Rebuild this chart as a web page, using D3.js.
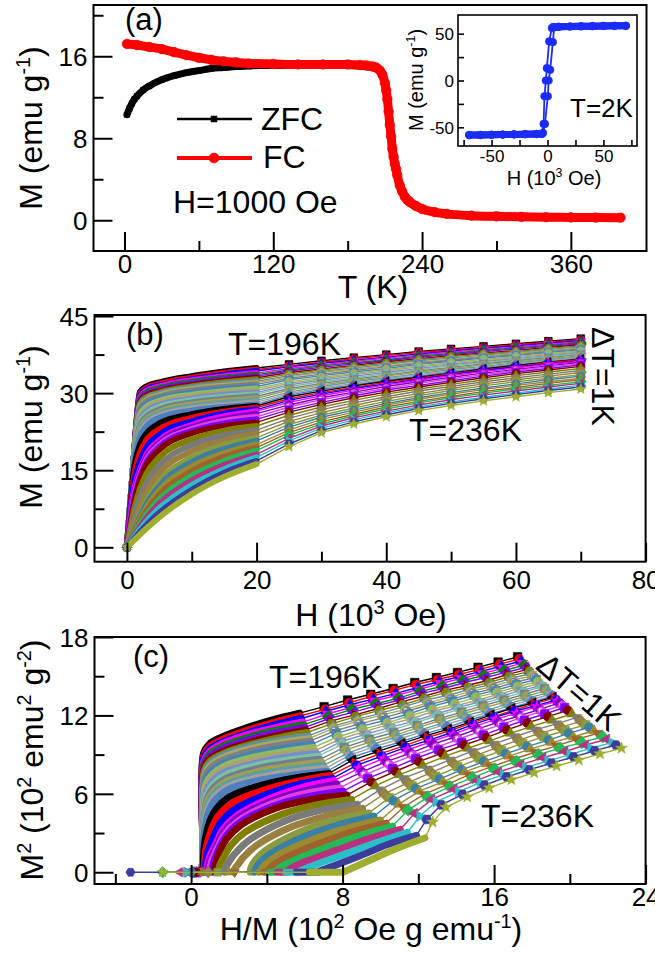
<!DOCTYPE html>
<html><head><meta charset="utf-8">
<script src="https://cdn.jsdelivr.net/npm/d3@7"></script>
<style>
body{margin:0;background:#fff}
svg{display:block}
text{font-family:"Liberation Sans",Arial,sans-serif;fill:#000}
</style>
</head><body>
<svg id="fig" width="655" height="953"></svg>
<script>
// ---------------- DATA ----------------
// (a) M-T curves, H = 1000 Oe
const fcT = [2,10,20,30,40,50,60,70,80,90,100,120,140,160,180,190,195,200,203,206,208,210,211,212,213,214,215,216,217,218,219,220,222,224,226,228,230,235,240,250,260,280,300,320,340,360,380,400];
const fcM = [17.2,17.1,16.9,16.7,16.4,16.1,15.85,15.65,15.5,15.4,15.3,15.25,15.2,15.2,15.2,15.15,15.1,15.0,14.9,14.6,14.2,13.4,12.7,11.8,10.6,9.3,8.2,7.0,6.2,5.5,5.0,4.4,3.4,2.8,2.3,2.0,1.8,1.4,1.1,0.8,0.62,0.45,0.38,0.33,0.3,0.28,0.26,0.25];
const zfcT = [2,4,6,8,10,15,20,30,40,50,60,70,80,90,100,110,120,140,160,180,200,206,210,212,214,216,218,220,224,230,240,260,300,350,400];
const zfcM = [10.3,10.9,11.4,11.8,12.1,12.7,13.1,13.7,14.1,14.4,14.6,14.8,14.9,15.0,15.05,15.1,15.1,15.1,15.1,15.1,14.9,14.5,13.2,11.5,9.0,6.8,5.3,4.3,2.7,1.7,1.05,0.6,0.37,0.29,0.24];
// (a) inset: hysteresis loop at T = 2 K
const loopDownH = [70,60,50,40,30,20,10,5,3.9,1.5,-0.6,-1.5,-2.7,-3.5,-5,-10,-20,-30,-40,-50,-60,-70];
const loopDownM = [58.5,58.4,58.3,58.1,57.9,57.7,57.4,57.1,56.0,41.8,13.2,0,-16.8,-46.4,-57.0,-57.2,-57.4,-57.6,-57.8,-58.0,-58.2,-58.3];
const loopUpH = [-70,-60,-50,-40,-30,-20,-10,-5,-4,-2.3,0.3,1.0,2.4,4.8,6.0,10,20,30,40,50,60,70];
const loopUpM = [-58.3,-58.2,-58.0,-57.8,-57.6,-57.4,-57.2,-57.0,-56.0,-46.4,-16.8,0,11.4,41.0,57.0,57.4,57.7,57.9,58.1,58.3,58.4,58.5];

// (b),(c) isotherms, T = 196 ... 236 K, dT = 1 K
const temps = [196,197,198,199,200,201,202,203,204,205,206,207,208,209,210,211,212,213,214,215,216,217,218,219,220,221,222,223,224,225,226,227,228,229,230,231,232,233,234,235,236];
const fieldsLow = [0,0.1,0.5,1,2,3,5,10,15,20];          // 10^3 Oe, dense sweep
const fieldsHigh = [25,30,35,40,45,50,55,60,65,70];      // 10^3 Oe
const mLow = [
[0,1.7,8.3,16.5,30.2,31.3,32.1,33.3,34.2,34.9],
[0,1.7,8.3,16.5,29.9,31.0,31.8,33.0,33.9,34.6],
[0,1.7,8.3,16.5,29.6,30.7,31.5,32.7,33.6,34.3],
[0,1.7,8.3,16.5,29.2,30.4,31.3,32.5,33.3,33.9],
[0,1.7,8.3,16.5,28.9,30.1,31.0,32.2,33.0,33.6],
[0,1.7,8.3,16.5,28.6,29.8,30.7,31.9,32.7,33.3],
[0,1.7,8.3,16.5,28.3,29.5,30.4,31.6,32.4,33.0],
[0,1.7,8.3,16.5,28.0,29.2,30.1,31.3,32.1,32.7],
[0,1.7,8.3,16.5,27.6,28.9,29.9,31.1,31.8,32.3],
[0,1.7,8.3,16.5,27.3,28.6,29.6,30.8,31.5,32.0],
[0,1.7,8.3,16.5,27.0,28.3,29.3,30.5,31.2,31.7],
[0,1.7,8.3,16.4,26.4,27.8,28.9,30.1,30.8,31.3],
[0,1.7,8.3,16.3,25.9,27.3,28.5,29.7,30.4,30.9],
[0,1.7,8.3,16.2,25.4,26.9,28.1,29.3,30.0,30.5],
[0,1.7,8.3,16.1,24.8,26.4,27.7,28.9,29.7,30.1],
[0,1.7,8.3,16.0,24.3,25.9,27.3,28.6,29.3,29.8],
[0,1.7,8.3,15.9,23.7,25.4,26.8,28.2,28.9,29.4],
[0,1.7,8.3,15.8,23.2,24.9,26.4,27.8,28.5,29.0],
[0,1.7,8.3,15.7,22.6,24.5,26.0,27.4,28.1,28.6],
[0,1.7,8.3,15.6,22.1,24.0,25.6,27.0,27.7,28.2],
[0,1.7,8.3,15.5,21.5,23.5,25.2,26.6,27.3,27.8],
[0,1.6,7.7,14.3,19.9,22.1,24.1,25.9,26.9,27.5],
[0,1.5,7.2,13.0,18.3,20.8,23.0,25.2,26.4,27.2],
[0,1.35,6.6,11.8,16.6,19.4,21.9,24.5,26.0,26.8],
[0,1.2,6.0,10.5,15.0,18.0,20.8,23.8,25.5,26.5],
[0,1.1,5.5,9.8,14.5,17.5,20.4,23.4,25.0,26.0],
[0,1.0,5.0,9.2,14.0,17.0,19.9,23.0,24.6,25.4],
[0,0.9,4.5,8.5,13.5,16.5,19.5,22.6,24.1,24.9],
[0,0.8,4.0,7.8,13.0,16.0,19.0,22.2,23.6,24.3],
[0,0.68,3.4,6.7,11.3,14.3,17.5,21.0,22.7,23.6],
[0,0.56,2.8,5.5,9.7,12.5,15.9,19.9,21.8,22.8],
[0,0.44,2.2,4.4,8.0,10.8,14.4,18.7,20.8,22.1],
[0,0.32,1.6,3.2,6.3,9.0,12.8,17.5,19.9,21.3],
[0,0.3,1.48,2.96,5.82,8.33,11.9,16.6,19.1,20.7],
[0,0.28,1.36,2.71,5.34,7.66,11.1,15.7,18.3,20.0],
[0,0.26,1.23,2.47,4.86,6.99,10.2,14.8,17.6,19.4],
[0,0.24,1.11,2.22,4.39,6.33,9.3,13.9,16.8,18.8],
[0,0.22,0.99,1.98,3.91,5.66,8.5,13.0,16.0,18.1],
[0,0.2,0.87,1.74,3.43,4.99,7.6,12.1,15.2,17.5],
[0,0.18,0.74,1.49,2.95,4.32,6.7,11.2,14.5,16.8],
[0,0.16,0.62,1.25,2.47,3.65,5.85,10.35,13.7,16.2]
];
const mHigh = [
[35.6,36.3,36.9,37.5,38.1,38.6,39.1,39.6,40.1,40.6],
[35.3,36.0,36.7,37.3,37.9,38.4,38.9,39.4,39.9,40.4],
[35.1,35.8,36.4,37.0,37.6,38.2,38.7,39.2,39.7,40.2],
[34.8,35.5,36.2,36.8,37.4,38.0,38.5,39.0,39.5,40.0],
[34.5,35.3,35.9,36.5,37.2,37.7,38.3,38.8,39.3,39.8],
[34.3,35.0,35.7,36.3,37.0,37.5,38.1,38.6,39.1,39.6],
[34.0,34.7,35.4,36.1,36.7,37.3,37.8,38.3,38.9,39.4],
[33.7,34.5,35.2,35.8,36.5,37.1,37.6,38.1,38.7,39.2],
[33.4,34.2,34.9,35.6,36.3,36.8,37.4,37.9,38.5,39.0],
[33.2,34.0,34.7,35.3,36.0,36.6,37.2,37.7,38.3,38.8],
[32.9,33.7,34.4,35.1,35.8,36.4,37.0,37.5,38.1,38.6],
[32.6,33.4,34.1,34.8,35.6,36.2,36.8,37.3,37.9,38.4],
[32.2,33.1,33.8,34.6,35.3,35.9,36.6,37.1,37.7,38.2],
[31.9,32.8,33.6,34.3,35.1,35.7,36.3,36.9,37.5,38.0],
[31.6,32.5,33.3,34.0,34.8,35.5,36.1,36.7,37.3,37.8],
[31.3,32.2,33.0,33.8,34.6,35.3,35.9,36.5,37.1,37.7],
[30.9,31.9,32.7,33.5,34.3,35.0,35.7,36.3,36.9,37.5],
[30.6,31.6,32.4,33.3,34.1,34.8,35.5,36.1,36.7,37.3],
[30.2,31.3,32.2,33.0,33.8,34.6,35.2,35.9,36.5,37.1],
[29.9,31.0,31.9,32.8,33.6,34.3,35.0,35.7,36.3,36.9],
[29.6,30.7,31.6,32.5,33.3,34.1,34.8,35.5,36.1,36.7],
[29.3,30.4,31.4,32.3,33.1,33.9,34.7,35.4,36.0,36.6],
[28.9,30.1,31.1,32.1,32.9,33.8,34.5,35.2,35.9,36.5],
[28.6,29.8,30.9,31.8,32.7,33.6,34.4,35.1,35.7,36.3],
[28.2,29.5,30.6,31.6,32.5,33.4,34.2,34.9,35.6,36.2],
[27.7,29.1,30.2,31.3,32.2,33.1,33.9,34.6,35.3,36.0],
[27.3,28.7,29.9,30.9,31.9,32.8,33.6,34.4,35.1,35.7],
[26.8,28.2,29.5,30.6,31.5,32.4,33.3,34.1,34.8,35.5],
[26.3,27.8,29.1,30.2,31.2,32.1,33.0,33.8,34.5,35.2],
[25.7,27.3,28.6,29.8,30.8,31.7,32.6,33.4,34.1,34.8],
[25.1,26.8,28.1,29.3,30.4,31.3,32.2,33.0,33.7,34.4],
[24.5,26.2,27.6,28.9,29.9,30.9,31.8,32.6,33.3,34.0],
[23.9,25.7,27.1,28.4,29.5,30.5,31.4,32.2,32.9,33.6],
[23.4,25.3,26.7,28.0,29.1,30.1,31.0,31.8,32.6,33.3],
[22.8,24.9,26.3,27.7,28.8,29.8,30.7,31.5,32.2,32.9],
[22.3,24.4,25.9,27.3,28.4,29.4,30.3,31.1,31.9,32.6],
[21.8,24.0,25.6,26.9,28.1,29.1,30.0,30.8,31.5,32.2],
[21.2,23.6,25.2,26.5,27.7,28.7,29.6,30.4,31.2,31.9],
[20.7,23.2,24.8,26.2,27.3,28.3,29.2,30.0,30.8,31.5],
[20.1,22.7,24.4,25.8,27.0,28.0,28.9,29.7,30.5,31.2],
[19.6,22.3,24.0,25.4,26.6,27.6,28.5,29.3,30.1,30.8]
];
// H/M (10^2 Oe g/emu) of the first (near zero-field) point of each isotherm in the Arrott plot
const zeroFieldHM = [0.3,0.2,0.4,0.3,0.1,0.3,0.5,0.2,0.3,0.4,0.2,0.3,0.1,0.3,0.4,0.2,0.3,0.0,0.3,0.5,0.2,0.3,-0.2,0.4,0.3,0.1,0.5,0.2,0.3,0.6,-0.3,0.9,1.4,0.0,2.0,2.3,-1.5,-0.6,-0.27,-3.2,-1.5];

// tick values / labels
const aXMajor=[0,120,240,360], aXMinor=[60,180,300], aYMajor=[0,8,16], aYMinor=[4,12,20];
const iXMajor=[-50,0,50], iXMinor=[-75,-25,25,75], iYMajor=[-50,0,50], iYMinor=[-25,25];
const bXMajor=[0,20,40,60,80], bXMinor=[10,30,50,70], bYMajor=[0,15,30,45], bYMinor=[7.5,22.5,37.5];
const cXMajor=[0,8,16,24], cXMinor=[-4,4,12,20], cYMajor=[0,6,12,18], cYMinor=[3,9,15];

// ---------------- STYLE ----------------
const curveColors = ["#000000","#ff0000","#0000ff","#ff00ff","#008000","#7f00ff","#800000","#808000","#5f8fa0","#a8a860","#808080","#4682b4","#8fbc5f","#b0a070","#6f8fcf","#7fbf9f","#708090","#a0a050","#5f9ea0","#a0a0a0","#4f7fbf","#000000","#ff0000","#0000ff","#ff00ff","#8000c0","#e040e0","#7f00ff","#800000","#808000","#7a7a7a","#9a8040","#8a9a3f","#3a7fa5","#9a8a30","#a0622d","#22bb55","#b8307f","#2bbfc9","#3c3c9c","#9fae2f"];
const symbolCycle = ["square","circle","up","down","diamond","left","right","hexagon","star","pentagon","sphere","square","circle","up","down","diamond"];
const FONT = '"Liberation Sans",Arial,sans-serif';

// ---------------- HELPERS ----------------
const svg = d3.select("#fig");
function poly(n,R,a0){let p=[];for(let i=0;i<n;i++){const a=a0+2*Math.PI*i/n;p.push([R*Math.sin(a),-R*Math.cos(a)]);}return "M"+p.map(q=>q[0].toFixed(2)+","+q[1].toFixed(2)).join("L")+"Z";}
function circ(r){return `M${-r},0A${r},${r} 0 1,0 ${r},0A${r},${r} 0 1,0 ${-r},0Z`;}
function starP(r){let p=[];for(let i=0;i<10;i++){const a=Math.PI*i/5;const R=i%2?r*0.55:r*1.35;p.push([R*Math.sin(a),-R*Math.cos(a)]);}return "M"+p.map(q=>q[0].toFixed(2)+","+q[1].toFixed(2)).join("L")+"Z";}
function shapePath(t,r){
  switch(t){
    case "square": return poly(4,r*1.3,Math.PI/4);
    case "circle": case "sphere": return circ(r);
    case "up": return poly(3,r*1.3,0);
    case "down": return poly(3,r*1.3,Math.PI);
    case "left": return poly(3,r*1.3,-Math.PI/2);
    case "right": return poly(3,r*1.3,Math.PI/2);
    case "diamond": return poly(4,r*1.35,0);
    case "hexagon": return poly(6,r*1.1,Math.PI/2);
    case "pentagon": return poly(5,r*1.15,0);
    case "star": return starP(r);
  }
}
function marker(g,t,x,y,r,color){
  g.append("path").attr("d",shapePath(t,r)).attr("transform",`translate(${x},${y})`)
   .attr("fill",color).attr("stroke",color).attr("stroke-width",0.6);
  if(t==="sphere") g.append("circle").attr("cx",x-r*0.3).attr("cy",y-r*0.3).attr("r",r*0.4).attr("fill","#fff").attr("opacity",0.85);
}
// rich text with superscripts: parts = [[text, isSup], ...]
function rich(g,x,y,parts,size,opts={}){
  const t=g.append("text").attr("x",x).attr("y",y).attr("font-size",size).attr("font-family",opts.serif?'"Liberation Serif","Times New Roman",serif':FONT);
  if(opts.anchor) t.attr("text-anchor",opts.anchor);
  if(opts.transform) t.attr("transform",opts.transform);
  let up=false;
  parts.forEach(([s,sup])=>{
    const ts=t.append("tspan").text(s);
    if(sup&&!up){ts.attr("dy",-0.38*size).attr("font-size",size*0.62);up=true;}
    else if(sup&&up){ts.attr("font-size",size*0.62);}
    else if(!sup&&up){ts.attr("dy",0.38*size);up=false;}
  });
  return t;
}
function axes(g,x,y,box,o){
  g.append("rect").attr("x",box.x0).attr("y",box.y0).attr("width",box.x1-box.x0).attr("height",box.y1-box.y0)
   .attr("fill","none").attr("stroke","#000").attr("stroke-width",o.sw);
  const mk=(axisFn,vals,len,lab,tr)=>{
    const a=g.append("g").attr("transform",tr).attr("font-family",FONT)
     .call(axisFn.tickValues(vals).tickSizeInner(-len).tickSizeOuter(0).tickPadding(0).tickFormat(lab?(d=>d):(()=>"")));
    a.select(".domain").remove();
    a.selectAll("line").attr("stroke-width",o.sw);
    return a;
  };
  const bm=mk(d3.axisBottom(x),o.xMajor,o.major,true,`translate(0,${box.y1})`);
  bm.selectAll("text").attr("y",o.xLab).attr("dy",null).attr("font-size",o.font);
  mk(d3.axisBottom(x),o.xMinor,o.minor,false,`translate(0,${box.y1})`);
  const lm=mk(d3.axisLeft(y),o.yMajor,o.major,true,`translate(${box.x0},0)`);
  lm.selectAll("text").attr("x",-o.yLab).attr("dy","0.36em").attr("font-size",o.font);
  mk(d3.axisLeft(y),o.yMinor,o.minor,false,`translate(${box.x0},0)`);
}
function clip(id,box){
  svg.append("clipPath").attr("id",id).append("rect").attr("x",box.x0).attr("y",box.y0).attr("width",box.x1-box.x0).attr("height",box.y1-box.y0);
}

// ---------------- PANEL (a) ----------------
const A={x0:93.5,x1:646.5,y0:5,y1:251};
const xa=d3.scaleLinear([-25,421],[A.x0,A.x1]), ya=d3.scaleLinear([-3,21],[A.y1,A.y0]);
clip("ca",A);
const ga=svg.append("g");
const pa=ga.append("g").attr("clip-path","url(#ca)");
const lineA=d3.line().x(d=>xa(d[0])).y(d=>ya(d[1])).curve(d3.curveMonotoneX);
const zfc=zfcT.map((t,i)=>[t,zfcM[i]]), fc=fcT.map((t,i)=>[t,fcM[i]]);
pa.append("path").attr("d",lineA(zfc)).attr("fill","none").attr("stroke","#000").attr("stroke-width",7).attr("stroke-linecap","round").attr("stroke-linejoin","round");
zfc.forEach(d=>marker(pa,"square",xa(d[0]),ya(d[1]),2.9,"#000"));
pa.append("path").attr("d",lineA(fc)).attr("fill","none").attr("stroke","#ff0000").attr("stroke-width",9).attr("stroke-linecap","round").attr("stroke-linejoin","round");
fc.forEach(d=>marker(pa,"circle",xa(d[0]),ya(d[1]),4.8,"#ff0000"));
axes(ga,xa,ya,A,{sw:2,major:19,minor:10,xMajor:aXMajor,xMinor:aXMinor,yMajor:aYMajor,yMinor:aYMinor,font:26,xLab:22,yLab:6});
ga.append("text").attr("x",125).attr("y",30).attr("font-size",31).text("(a)");
// legend
ga.append("line").attr("x1",177).attr("x2",252).attr("y1",119).attr("y2",119).attr("stroke","#000").attr("stroke-width",2.5);
marker(ga,"square",214,119,3.2,"#000");
ga.append("text").attr("x",261).attr("y",130).attr("font-size",32).text("ZFC");
ga.append("line").attr("x1",177).attr("x2",252).attr("y1",158).attr("y2",158).attr("stroke","#ff0000").attr("stroke-width",4);
marker(ga,"circle",214,158,5,"#ff0000");
ga.append("text").attr("x",263).attr("y",168).attr("font-size",32).text("FC");
ga.append("text").attr("x",173).attr("y",213).attr("font-size",32).text("H=1000 Oe");
rich(ga,0,0,[["M (emu g",0],["-1",1],[")",0]],32,{anchor:"middle",transform:"translate(42,128) rotate(-90)"});
ga.append("text").attr("x",373).attr("y",298).attr("font-size",32).attr("text-anchor","middle").text("T (K)");

// inset
const I={x0:458,x1:637,y0:15,y1:146};
const xi=d3.scaleLinear([-80,80],[I.x0,I.x1]), yi=d3.scaleLinear([-70,70],[I.y1,I.y0]);
clip("ci",I);
const gi=svg.append("g");
gi.append("rect").attr("x",I.x0).attr("y",I.y0).attr("width",I.x1-I.x0).attr("height",I.y1-I.y0).attr("fill","#fff");
const pi=gi.append("g").attr("clip-path","url(#ci)");
const lineI=d3.line().x(d=>xi(d[0])).y(d=>yi(d[1]));
const blue="#1a2cf5";
[[loopDownH,loopDownM],[loopUpH,loopUpM]].forEach(([hh,mm])=>{
  const pts=hh.map((h,i)=>[h,mm[i]]);
  pi.append("path").attr("d",lineI(pts)).attr("fill","none").attr("stroke",blue).attr("stroke-width",1.8);
  [pts.filter(p=>p[0]<=-5),pts.filter(p=>p[0]>=5)].forEach(seg=>{
    seg.sort((a,b)=>a[0]-b[0]);
    pi.append("path").attr("d",lineI(seg)).attr("fill","none").attr("stroke",blue).attr("stroke-width",7).attr("stroke-linecap","round");
  });
  pts.forEach(p=>marker(pi,"circle",xi(p[0]),yi(p[1]),3.8,blue));
});
axes(gi,xi,yi,I,{sw:1.6,major:6,minor:6,xMajor:iXMajor,xMinor:iXMinor,yMajor:iYMajor,yMinor:iYMinor,font:17,xLab:16,yLab:4});
rich(gi,0,0,[["M (emu g",0],["-1",1],[")",0]],20,{anchor:"middle",transform:"translate(423,80) rotate(-90)"});
rich(gi,554,185,[["H (10",0],["3",1],[" Oe)",0]],20,{anchor:"middle"});
rich(gi,570,117,[["T=2K",0]],26,{serif:true});

// ---------------- PANEL (b) ----------------
const B={x0:94.5,x1:645.6,y0:315,y1:561.7};
const xb=d3.scaleLinear([-5,80],[B.x0,B.x1]), yb=d3.scaleLinear([-2.8,45.2],[B.y1,B.y0]);
clip("cb",B);
const gb=svg.append("g");
const pb=gb.append("g").attr("clip-path","url(#cb)");
const bandB=d3.line().x(d=>xb(d[0])).y(d=>yb(d[1])).curve(d3.curveMonotoneX);
const thinB=d3.line().x(d=>xb(d[0])).y(d=>yb(d[1]));
temps.forEach((T,k)=>{
  const col=curveColors[k], sym=symbolCycle[k%16];
  const low=fieldsLow.map((h,i)=>[h,mLow[k][i]]);
  const high=fieldsHigh.map((h,i)=>[h,mHigh[k][i]]);
  pb.append("path").attr("d",bandB(low)).attr("fill","none").attr("stroke",col).attr("stroke-width",6).attr("stroke-linecap","round").attr("stroke-linejoin","round");
  pb.append("path").attr("d",thinB([low[low.length-1]].concat(high))).attr("fill","none").attr("stroke",col).attr("stroke-width",1.4);
  marker(pb,sym,xb(low[0][0]),yb(low[0][1]),3.6,col);
  high.forEach(p=>marker(pb,sym,xb(p[0]),yb(p[1]),4.2,col));
});
axes(gb,xb,yb,B,{sw:2,major:19,minor:10,xMajor:bXMajor,xMinor:bXMinor,yMajor:bYMajor,yMinor:bYMinor,font:26,xLab:27,yLab:6});
gb.append("text").attr("x",126).attr("y",345).attr("font-size",31).text("(b)");
gb.append("text").attr("x",228).attr("y",355).attr("font-size",32).text("T=196K");
gb.append("text").attr("x",409).attr("y",441).attr("font-size",32).text("T=236K");
gb.append("text").attr("font-size",32).attr("transform","translate(592,327) rotate(90)").text("\u0394T=1K");
rich(gb,0,0,[["M (emu g",0],["-1",1],[")",0]],32,{anchor:"middle",transform:"translate(42,427) rotate(-90)"});
rich(gb,371,626,[["H (10",0],["3",1],[" Oe)",0]],32,{anchor:"middle"});

// ---------------- PANEL (c) ----------------
const C={x0:94.5,x1:645.6,y0:637,y1:884};
const xc=d3.scaleLinear([-5.1,24],[C.x0,C.x1]), yc=d3.scaleLinear([-0.9,18],[C.y1,C.y0]);
clip("cc",C);
const gc=svg.append("g");
const pc=gc.append("g").attr("clip-path","url(#cc)");
const bandC=d3.line().x(d=>xc(d[0])).y(d=>yc(d[1])).curve(d3.curveCatmullRom.alpha(0.5));
const thinC=d3.line().x(d=>xc(d[0])).y(d=>yc(d[1]));
// Arrott transform: x = H/M (10^2 Oe g/emu), y = M^2 (10^2 emu^2/g^2)
const arrott=(h,m)=>[h*1000/m/100, m*m/100];
temps.forEach((T,k)=>{
  const col=curveColors[k], sym=symbolCycle[k%16];
  const first=[zeroFieldHM[k],0];
  const low=fieldsLow.slice(1).map((h,i)=>arrott(h,mLow[k][i+1]));
  const high=fieldsHigh.map((h,i)=>arrott(h,mHigh[k][i]));
  pc.append("path").attr("d",thinC([first,low[0]])).attr("fill","none").attr("stroke",col).attr("stroke-width",1.4);
  pc.append("path").attr("d",bandC(low)).attr("fill","none").attr("stroke",col).attr("stroke-width",7).attr("stroke-linecap","round").attr("stroke-linejoin","round");
  pc.append("path").attr("d",thinC([low[low.length-1]].concat(high))).attr("fill","none").attr("stroke",col).attr("stroke-width",1.4);
  marker(pc,sym,xc(first[0]),yc(first[1]),4.2,col);
  high.forEach(p=>marker(pc,sym,xc(p[0]),yc(p[1]),4.6,col));
});
axes(gc,xc,yc,C,{sw:2,major:19,minor:10,xMajor:cXMajor,xMinor:cXMinor,yMajor:cYMajor,yMinor:cYMinor,font:26,xLab:22,yLab:6});
gc.append("text").attr("x",133).attr("y",667).attr("font-size",31).text("(c)");
gc.append("text").attr("x",269).attr("y",688).attr("font-size",32).text("T=196K");
gc.append("text").attr("x",481).attr("y",827).attr("font-size",32).text("T=236K");
gc.append("text").attr("font-size",32).attr("text-anchor","middle").attr("dominant-baseline","central").attr("transform","translate(579,692) rotate(41)").text("\u0394T=1K");
rich(gc,0,0,[["M",0],["2",1],[" (10",0],["2",1],[" emu",0],["2",1],[" g",0],["-2",1],[")",0]],32,{anchor:"middle",transform:"translate(43,760) rotate(-90)"});
rich(gc,371,940,[["H/M (10",0],["2",1],[" Oe g emu",0],["-1",1],[")",0]],32,{anchor:"middle"});
</script>
</body></html>
